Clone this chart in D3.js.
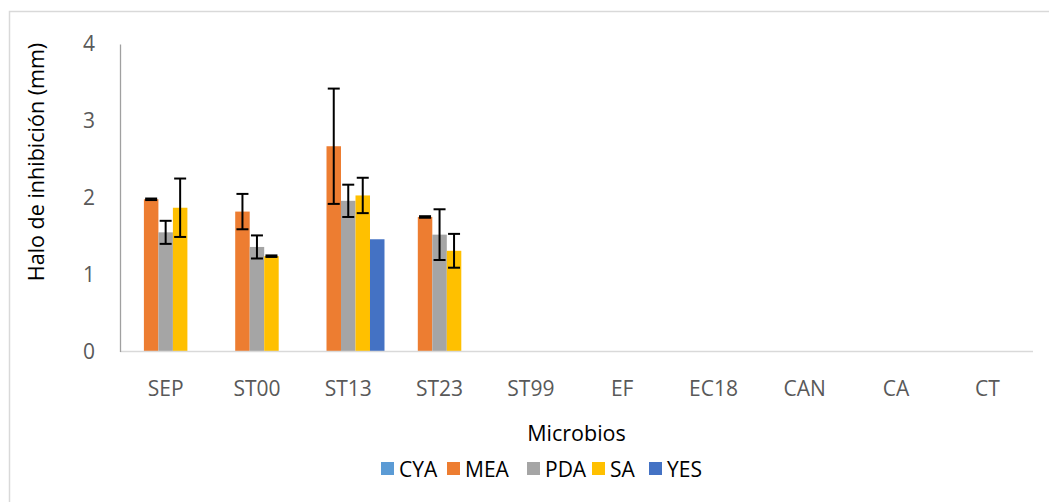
<!DOCTYPE html>
<html>
<head>
<meta charset="utf-8">
<script src="https://cdn.jsdelivr.net/npm/d3@7"></script>
<style>
  html, body { margin: 0; padding: 0; background: #fff; }
  svg { display: block; font-family: "Open Sans", "Noto Sans", sans-serif; }
</style>
</head>
<body>
<svg id="chart" width="1049" height="502"></svg>
<script>
const categories = ["SEP", "ST00", "ST13", "ST23", "ST99", "EF", "EC18", "CAN", "CA", "CT"];
const seriesNames = ["CYA", "MEA", "PDA", "SA", "YES"];
const CYA = [0, 0, 0, 0, 0, 0, 0, 0, 0, 0];
const MEA = [1.98, 1.82, 2.67, 1.75, 0, 0, 0, 0, 0, 0];
const PDA = [1.55, 1.36, 1.96, 1.52, 0, 0, 0, 0, 0, 0];
const SA  = [1.87, 1.24, 2.03, 1.31, 0, 0, 0, 0, 0, 0];
const YES = [0, 0, 1.46, 0, 0, 0, 0, 0, 0, 0];
const CYA_err = [0, 0, 0, 0, 0, 0, 0, 0, 0, 0];
const MEA_err = [0.01, 0.23, 0.75, 0.01, 0, 0, 0, 0, 0, 0];
const PDA_err = [0.15, 0.15, 0.21, 0.33, 0, 0, 0, 0, 0, 0];
const SA_err  = [0.38, 0.01, 0.23, 0.22, 0, 0, 0, 0, 0, 0];
const YES_err = [0, 0, 0, 0, 0, 0, 0, 0, 0, 0];
const yTicks = [0, 1, 2, 3, 4];
const colors = ["#5b9bd5", "#ed7d31", "#a5a5a5", "#ffc000", "#4472c4"];
const yTitle = "Halo de inhibición (mm)";
const xTitle = "Microbios";

const values = [CYA, MEA, PDA, SA, YES];
const errors = [CYA_err, MEA_err, PDA_err, SA_err, YES_err];

const svg = d3.select("#chart");

// chart border
svg.append("rect")
  .attr("x", 9.5).attr("y", 11.5)
  .attr("width", 1100).attr("height", 600)
  .attr("fill", "none").attr("stroke", "#d9d9d9").attr("stroke-width", 1.5);

const pLeft = 120, pRight = 1033, pTop = 44, pBottom = 351.5;

const x0 = d3.scaleBand().domain(categories).range([pLeft, pRight])
  .paddingInner(0.206).paddingOuter(0.103);
const x1 = d3.scaleBand().domain(seriesNames).range([0, x0.bandwidth()]);
const y = d3.scaleLinear().domain([0, 4]).range([pBottom, pTop]);
const color = d3.scaleOrdinal().domain(seriesNames).range(colors);

const flat = [];
categories.forEach((c, i) => {
  seriesNames.forEach((s, j) => {
    flat.push({ cat: c, ser: s, v: values[j][i], e: errors[j][i] });
  });
});

// bars
svg.append("g").selectAll("rect")
  .data(flat.filter(d => d.v > 0))
  .join("rect")
  .attr("x", d => x0(d.cat) + x1(d.ser))
  .attr("y", d => y(d.v))
  .attr("width", x1.bandwidth())
  .attr("height", d => y(0) - y(d.v))
  .attr("fill", d => color(d.ser));

// x axis baseline
const xAxis = d3.axisBottom(x0).tickSize(0).tickPadding(30);
const gx = svg.append("g").attr("transform", `translate(0,${pBottom})`).call(xAxis);
gx.select(".domain").attr("stroke", "#d9d9d9").attr("stroke-width", 1.5)
  .attr("d", `M${pLeft},0H${pRight}`);
gx.selectAll("text").attr("font-size", 21).attr("fill", "#595959")
  .attr("font-family", "'Open Sans', sans-serif");

// y axis
const yAxis = d3.axisLeft(y).tickValues(yTicks).tickSize(0).tickPadding(25).tickFormat(d3.format("d"));
const gy = svg.append("g").attr("transform", `translate(${pLeft},0)`).call(yAxis);
gy.select(".domain").attr("stroke", "#a0a0a0").attr("stroke-width", 1.3);
gy.selectAll("text").attr("font-size", 21).attr("fill", "#595959")
  .attr("font-family", "'Open Sans', sans-serif");

// error bars
const eb = svg.append("g").attr("stroke", "#000").attr("stroke-width", 2).attr("fill", "none");
flat.filter(d => d.v > 0 && d.e > 0).forEach(d => {
  const cx = x0(d.cat) + x1(d.ser) + x1.bandwidth() / 2;
  const y1 = y(d.v + d.e), y2 = y(d.v - d.e);
  eb.append("line").attr("x1", cx).attr("x2", cx).attr("y1", y1).attr("y2", y2);
  eb.append("line").attr("x1", cx - 6).attr("x2", cx + 6).attr("y1", y1).attr("y2", y1);
  eb.append("line").attr("x1", cx - 6).attr("x2", cx + 6).attr("y1", y2).attr("y2", y2);
});

// axis titles
svg.append("text")
  .attr("transform", `translate(44,162) rotate(-90)`)
  .attr("text-anchor", "middle").attr("font-size", 21.5).attr("fill", "#000")
  .text(yTitle);

svg.append("text")
  .attr("x", (pLeft + pRight) / 2).attr("y", 441)
  .attr("text-anchor", "middle").attr("font-size", 21.5).attr("fill", "#000")
  .text(xTitle);

// legend
const legendX = [381, 447, 527, 592, 649];
const lg = svg.append("g");
seriesNames.forEach((s, j) => {
  const g = lg.append("g").attr("transform", `translate(${legendX[j]},0)`);
  g.append("rect").attr("x", 0).attr("y", 462).attr("width", 13).attr("height", 13).attr("fill", color(s));
  g.append("text").attr("x", 18).attr("y", 477).attr("font-size", 21).attr("fill", "#000").text(s);
});
</script>
</body>
</html>
